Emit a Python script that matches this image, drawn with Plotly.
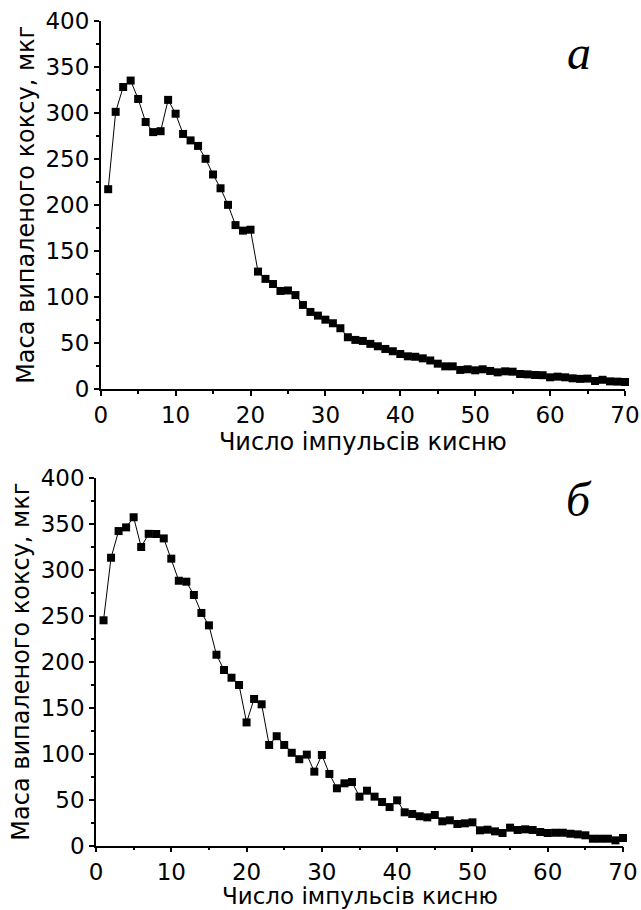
import plotly.graph_objects as go

pulses = list(range(1, 71))

mass_a = [217, 301, 328, 335, 315, 290, 279, 280, 314, 299,
          277, 270, 264, 250, 233, 218, 200, 178, 172, 173,
          127.5, 119.6, 114, 106.5, 107, 102, 91.3, 83.7, 79.7, 75.3,
          71.4, 66, 56.2, 53.3, 52.2, 49, 46.4, 43.5, 41, 38,
          35.5, 35, 33.3, 31, 27.5, 24.6, 24.6, 20.7, 21.4, 20.3,
          21.4, 19.6, 18.1, 19.2, 18.8, 16.3, 15.9, 15.2, 15, 12.7,
          13.4, 12.7, 11.6, 11, 11.3, 8.7, 10, 8.3, 8, 7.6]

mass_b = [245, 313, 342, 346, 357, 324.7, 339, 338.8, 334, 312,
          288, 287, 272.5, 253, 239.5, 207.6, 191, 182.6, 174.7, 134,
          159.5, 153.7, 109.5, 119, 109.5, 101, 94, 99, 80.5, 98.6,
          78, 62.4, 67.8, 69.2, 53.3, 59.8, 53.3, 47.5, 42, 49.3,
          36.3, 34.5, 32, 30.8, 33.4, 26.5, 27.6, 23.6, 24.3, 25.4,
          16.7, 17.4, 15.6, 13.8, 19.6, 17.1, 17.8, 17.1, 14.9, 13.8,
          14.1, 14.1, 13, 12.3, 11.3, 7.6, 7.6, 7.6, 5.8, 8.4]

x_title = "Число імпульсів кисню"
y_title = "Маса випаленого коксу, мкг"
panel_labels = ["а", "б"]

W, H = 641, 910
FONT = "DejaVu Sans, Arial, sans-serif"

fig = go.Figure()
for i, ys in enumerate([mass_a, mass_b]):
    fig.add_trace(go.Scatter(
        x=pulses, y=ys, mode="lines+markers",
        line=dict(color="black", width=1),
        marker=dict(symbol="square", size=8, color="black"),
        xaxis="x" if i == 0 else "x2", yaxis="y" if i == 0 else "y2",
        showlegend=False, cliponaxis=False))

def px_dom_x(a, b):
    return [a / W, b / W]

def px_dom_y(top, bottom):
    return [(H - bottom) / H, (H - top) / H]

axis_common = dict(
    showline=True, linecolor="black", linewidth=1.5,
    ticks="outside", ticklen=5, tickwidth=1.5, tickcolor="black",
    showgrid=False, zeroline=False, mirror=False, automargin=False,
    tickfont=dict(family=FONT, size=23, color="black"),
    minor=dict(ticks="outside", ticklen=3, tickwidth=1.5, tickcolor="black", showgrid=False),
)
title_font = dict(family=FONT, size=24, color="black")

fig.update_layout(
    width=W, height=H,
    margin=dict(l=0, r=0, t=0, b=0),
    paper_bgcolor="white", plot_bgcolor="white",
    xaxis=dict(domain=px_dom_x(100.7, 625), range=[0, 70], dtick=10,
               minor_dtick=5, anchor="y",
               title=dict(text=x_title, font=title_font, standoff=0),
               **axis_common),
    yaxis=dict(domain=px_dom_y(20.7, 389), range=[0, 400], dtick=50,
               minor_dtick=25, anchor="x",
               title=dict(text=y_title, font=title_font, standoff=4),
               **axis_common),
    xaxis2=dict(domain=px_dom_x(96, 623), range=[0, 70], dtick=10,
                minor_dtick=5, anchor="y2",
                **axis_common),
    yaxis2=dict(domain=px_dom_y(477.7, 845.7), range=[0, 400], dtick=50,
                minor_dtick=25, anchor="x2",
                title=dict(text=y_title, font=title_font, standoff=4),
                **axis_common),
)

# bottom panel x-axis title, set as annotation flush with the page bottom
fig.add_annotation(
    text=x_title, xref="paper", yref="paper",
    x=(96 + 623) / 2 / W, y=0, xanchor="center", yanchor="bottom",
    showarrow=False, font=dict(family=FONT, size=23, color="black"),
    borderpad=0)

label_pos = [(63.9, 366), (64.2, 376)]
for i, lab in enumerate(panel_labels):
    fig.add_annotation(
        text=lab, xref="x" if i == 0 else "x2", yref="y" if i == 0 else "y2",
        x=label_pos[i][0], y=label_pos[i][1], showarrow=False,
        font=dict(family="Liberation Serif, Times New Roman, serif", size=48,
                  color="black", style="italic"))

fig.write_html("out.html")
